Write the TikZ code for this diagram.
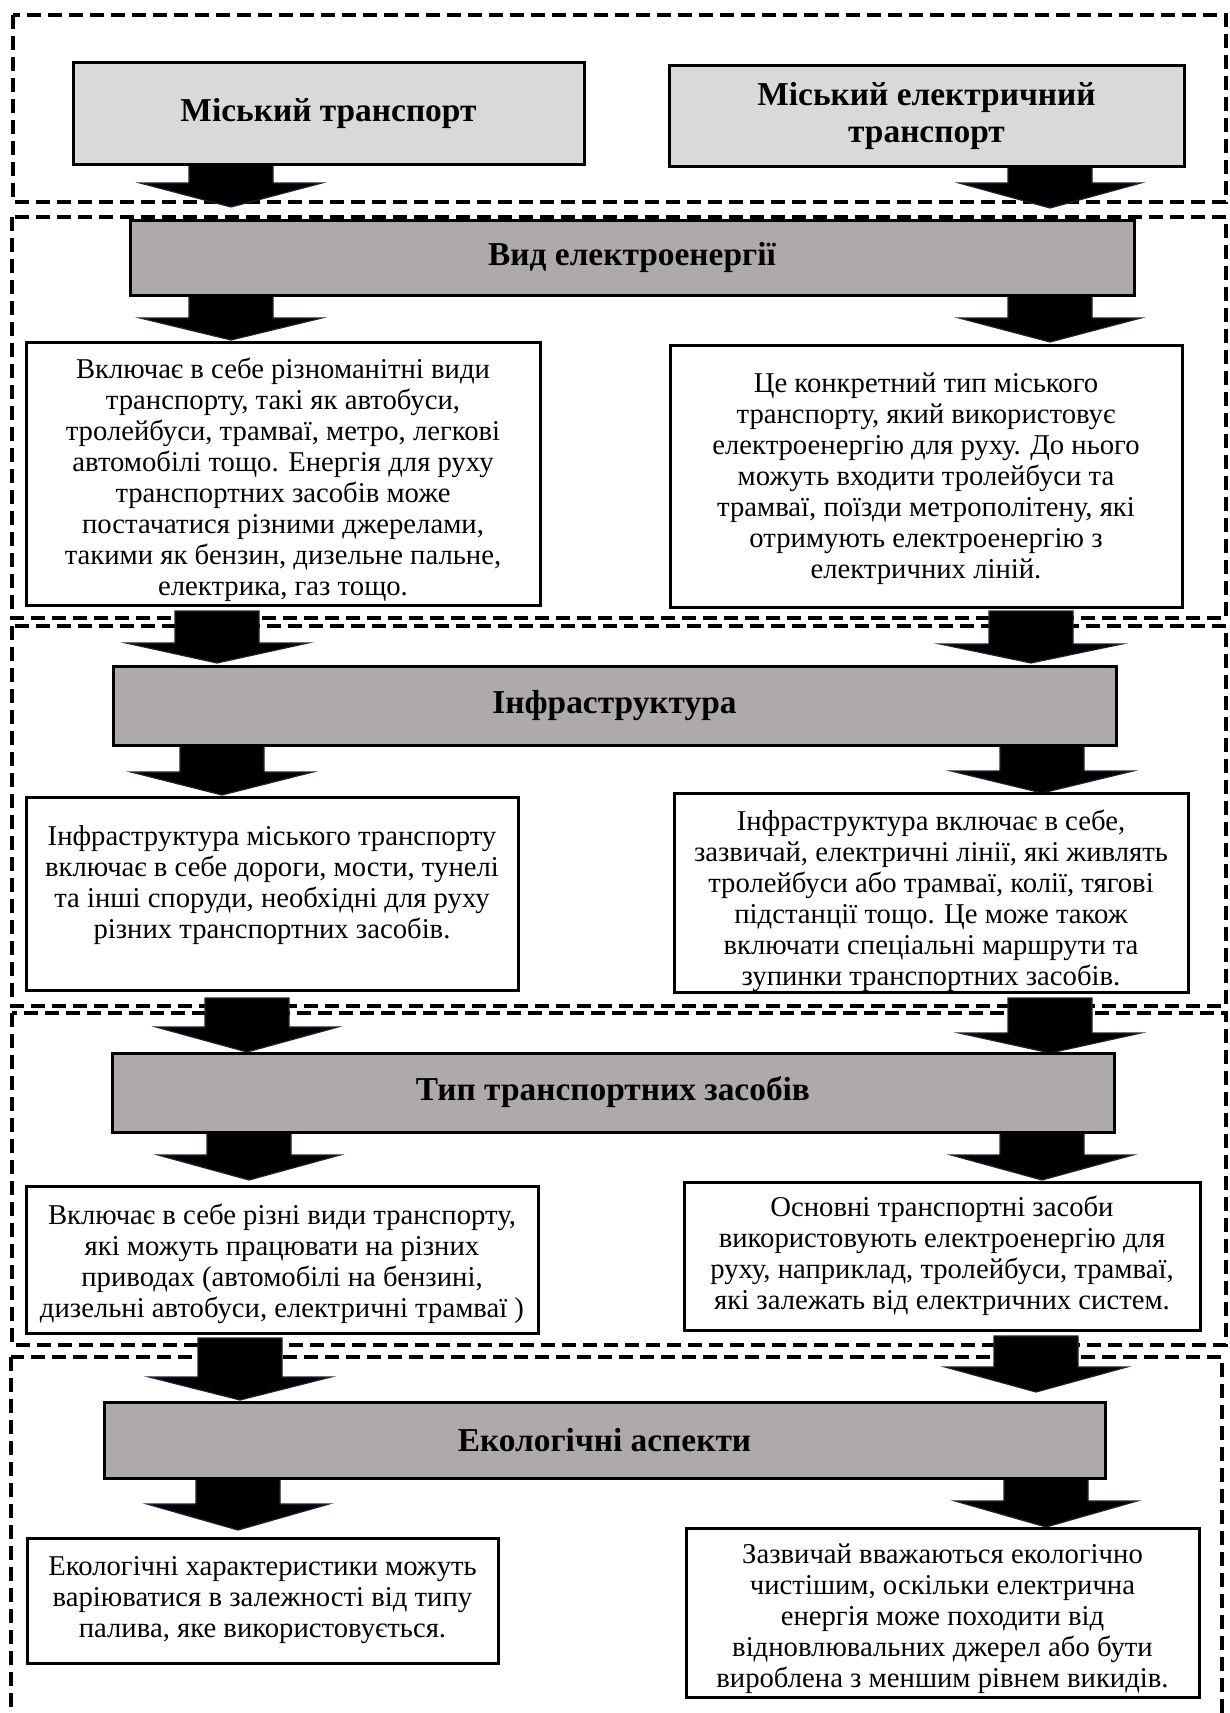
\documentclass[tikz,border=0pt]{standalone}
\usepackage{fontspec}
\setmainfont{Liberation Serif}
\definecolor{topgray}{HTML}{D9D9D9}
\definecolor{headgray}{HTML}{AEAAAA}
\definecolor{arrowedge}{HTML}{1C2433}
\newcommand\barrow[4]{\filldraw[arrowsty] ({#1-42},#2) -- ({#1+42},#2) -- ({#1+42},#3) -- ({#1+91},#3) -- (#1,#4) -- ({#1-91},#3) -- ({#1-42},#3) -- cycle;}
\newcommand\boxnode[7]{\node[#6, minimum width={(#4-#2)*1pt}, minimum height={(#5-#3)*1pt}] (#1) at ({(#2+#4)/2},{(#3+#5)/2}) {#7};}
\begin{document}
\begin{tikzpicture}[x=1pt,y=-1pt,
  sect/.style={draw=black, line width=3.2pt, dash pattern=on 14pt off 7pt},
  arrowsty/.style={fill=black, draw=arrowedge, line width=1.2pt, line join=miter},
  topbox/.style={draw=black, line width=3pt, fill=topgray, inner sep=0pt, align=center, font=\bfseries\fontsize{33.4}{37}\selectfont},
  headbox/.style={draw=black, line width=3pt, fill=headgray, inner sep=0pt, align=center, font=\bfseries\fontsize{33.4}{37}\selectfont},
  txtbox/.style={draw=black, line width=3pt, fill=white, inner sep=0pt},
  bodytext/.style={inner sep=0pt, align=center, font=\fontsize{28.7}{31}\selectfont}]
\useasboundingbox (0,0) rectangle (1229,1713);
\fill[white] (0,0) rectangle (1229,1713);
% sections
\draw[sect] (13,15) rectangle (1226,202);
\draw[sect] (12,217) rectangle (1226,618);
\draw[sect] (12,626) rectangle (1226,1006);
\draw[sect] (12,1013) rectangle (1226,1345);
\draw[sect] (11,1357) rectangle (1222,1780);
% block arrows
\barrow{231}{164}{183}{207}
\barrow{1050}{166}{183}{208}
\barrow{231}{295}{318}{340}
\barrow{1050}{295}{318}{342}
\barrow{217}{611}{643}{663}
\barrow{1031}{611}{644}{663}
\barrow{222}{745}{772}{795}
\barrow{1042}{745}{771}{793}
\barrow{247}{998}{1027}{1052}
\barrow{1050}{998}{1033}{1053}
\barrow{249}{1132}{1155}{1180}
\barrow{1042}{1132}{1155}{1180}
\barrow{240}{1338}{1377}{1400}
\barrow{1036}{1336}{1367}{1392}
\barrow{238}{1478}{1504}{1530}
\barrow{1046}{1478}{1501}{1527}
% top boxes
\boxnode{mt}{73}{62}{584}{164}{topbox}{Міський транспорт}
\boxnode{met}{669}{65}{1184}{166}{topbox}{Міський електричний\\транспорт}
% section 2
\boxnode{h1}{130}{220}{1134}{295}{headbox}{Вид електроенергії}
\boxnode{l1}{26}{342}{540}{605}{txtbox}{}
\node[bodytext] (l1t) at ([yshift=-6pt]l1.center) {Включає в себе різноманітні види\\транспорту, такі як автобуси,\\тролейбуси, трамваї, метро, легкові\\автомобілі тощо. Енергія для руху\\транспортних засобів може\\постачатися різними джерелами,\\такими як бензин, дизельне пальне,\\електрика, газ тощо.};
\boxnode{r1}{670}{345}{1182}{607}{txtbox}{}
\node[bodytext] (r1t) at ([yshift=-3pt]r1.center) {Це конкретний тип міського\\транспорту, який використовує\\електроенергію для руху. До нього\\можуть входити тролейбуси та\\трамваї, поїзди метрополітену, які\\отримують електроенергію з\\електричних ліній.};
% section 3
\boxnode{h2}{113}{666}{1116}{745}{headbox}{Інфраструктура}
\boxnode{l2}{26}{797}{518}{990}{txtbox}{}
\node[bodytext] (l2t) at ([yshift=8pt]l2.center) {Інфраструктура міського транспорту\\включає в себе дороги, мости, тунелі\\та інші споруди, необхідні для руху\\різних транспортних засобів.};
\boxnode{r2}{674}{793}{1188}{992}{txtbox}{}
\node[bodytext] (r2t) at ([yshift=-8pt]r2.center) {Інфраструктура включає в себе,\\зазвичай, електричні лінії, які живлять\\тролейбуси або трамваї, колії, тягові\\підстанції тощо. Це може також\\включати спеціальні маршрути та\\зупинки транспортних засобів.};
% section 4
\boxnode{h3}{112}{1053}{1114}{1132}{headbox}{Тип транспортних засобів}
\boxnode{l3}{26}{1186}{538}{1333}{txtbox}{}
\node[bodytext] (l3t) at ([yshift=-4pt]l3.center) {Включає в себе різні види транспорту,\\які можуть працювати на різних\\приводах (автомобілі на бензині,\\дизельні автобуси, електричні трамваї )};
\boxnode{r3}{684}{1182}{1200}{1330}{txtbox}{}
\node[bodytext] (r3t) at (r3.center) {Основні транспортні засоби\\використовують електроенергію для\\руху, наприклад, тролейбуси, трамваї,\\які залежать від електричних систем.};
% section 5
\boxnode{h4}{104}{1402}{1105}{1478}{headbox}{Екологічні аспекти}
\boxnode{l4}{27}{1538}{498}{1663}{txtbox}{}
\node[bodytext] (l4t) at (l4.center) {Екологічні характеристики можуть\\варіюватися в залежності від типу\\палива, яке використовується.};
\boxnode{r4}{686}{1528}{1199}{1697}{txtbox}{}
\node[bodytext] (r4t) at ([yshift=-6pt]r4.center) {Зазвичай вважаються екологічно\\чистішим, оскільки електрична\\енергія може походити від\\відновлювальних джерел або бути\\вироблена з меншим рівнем викидів.};
\end{tikzpicture}
\end{document}
